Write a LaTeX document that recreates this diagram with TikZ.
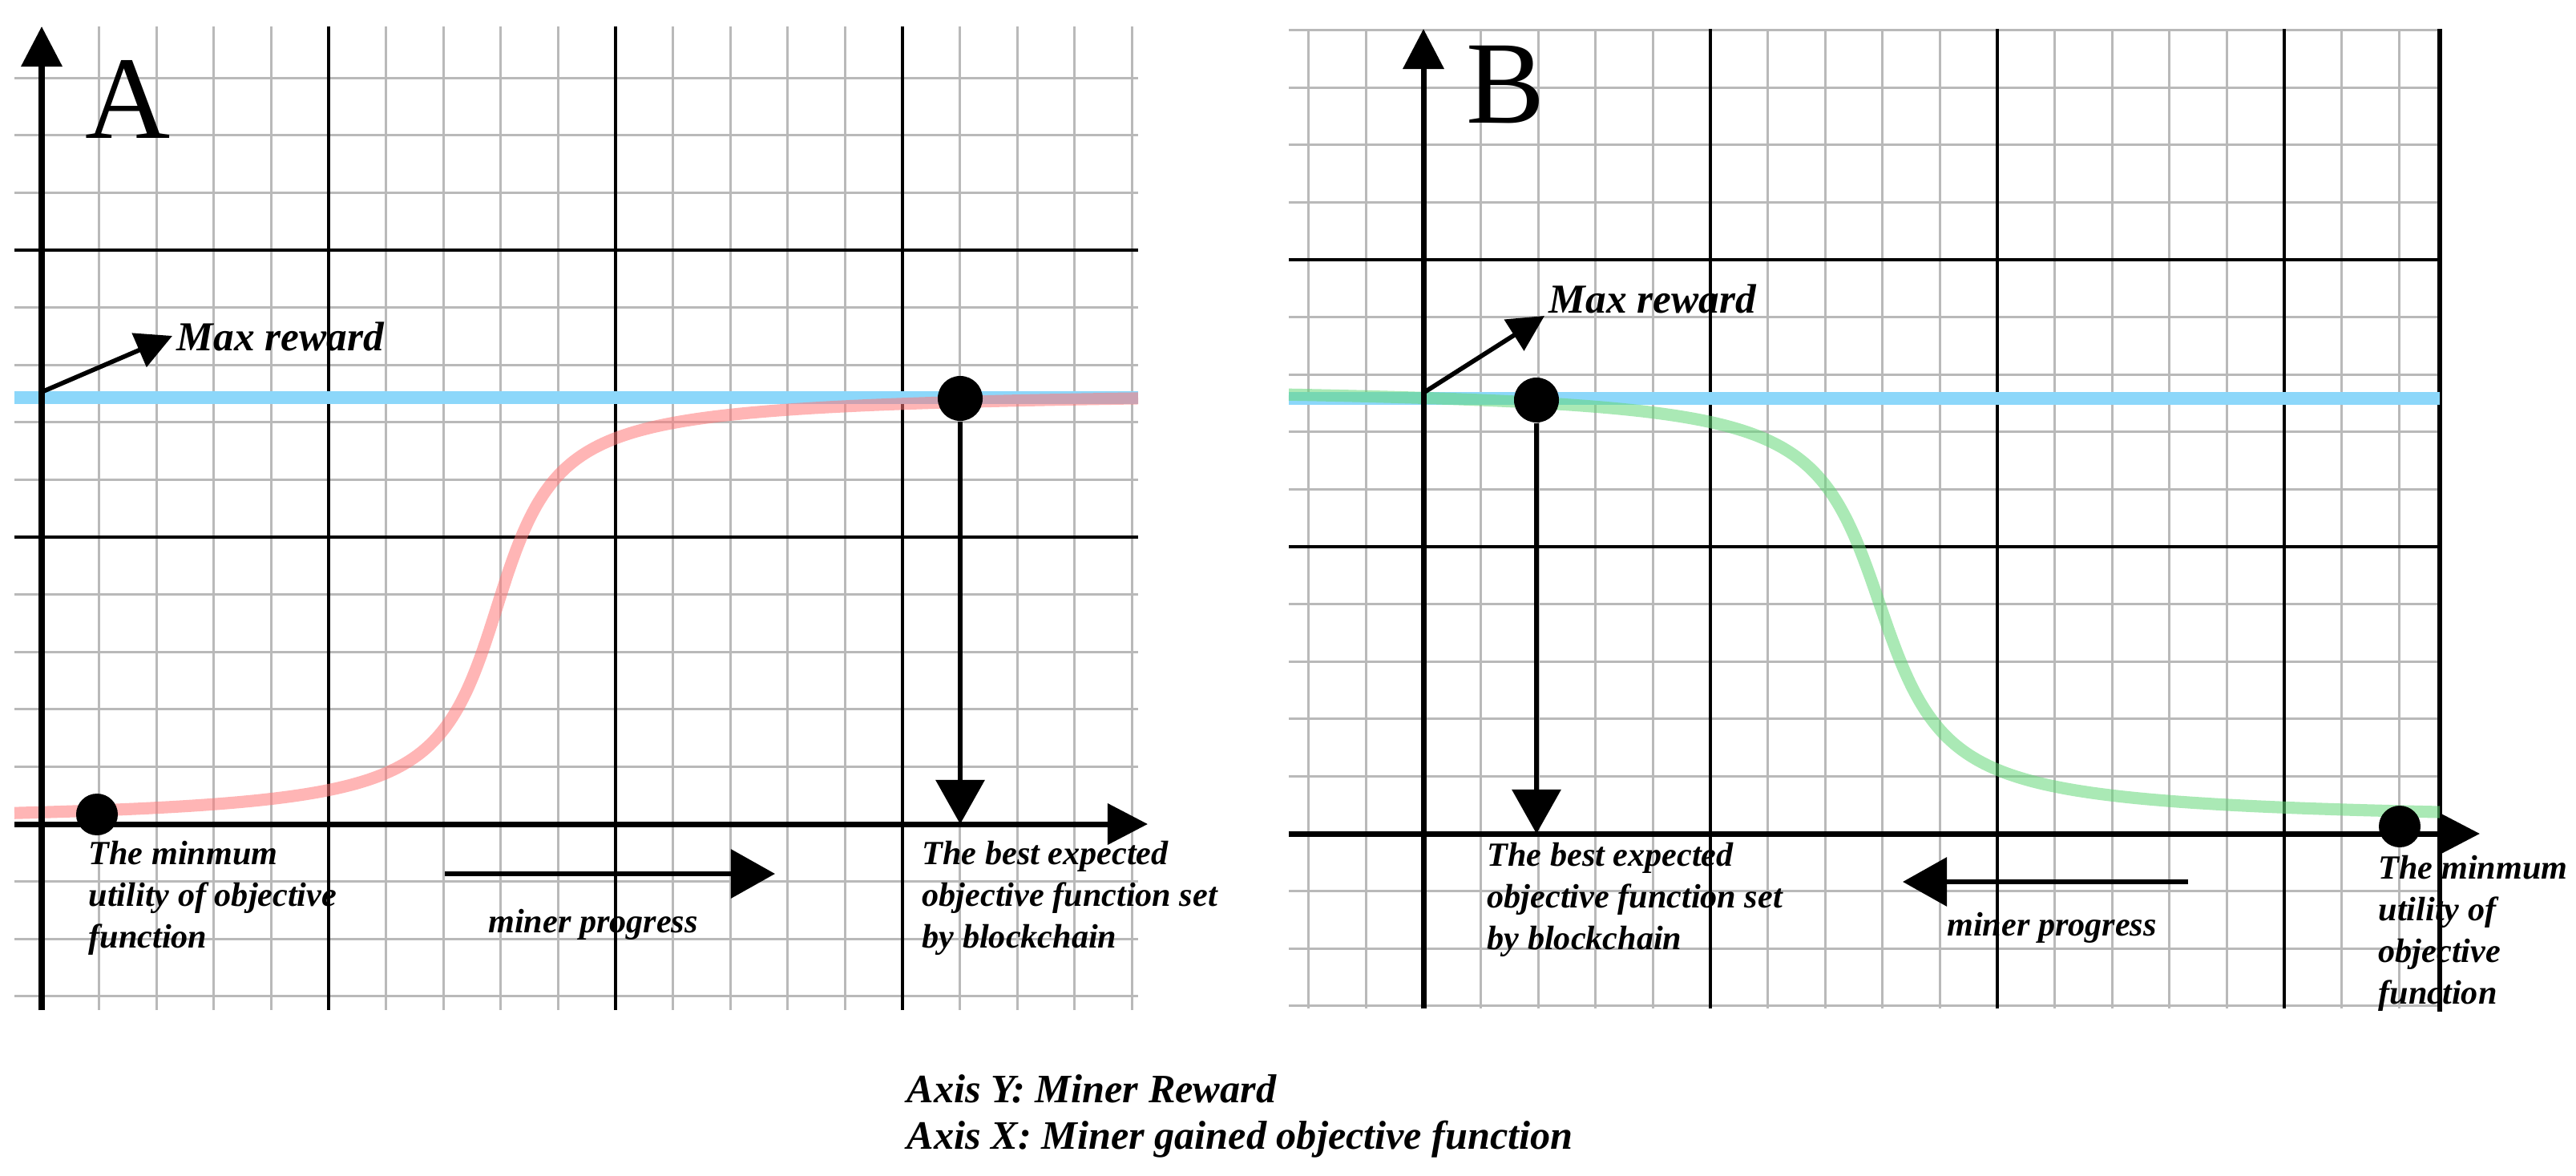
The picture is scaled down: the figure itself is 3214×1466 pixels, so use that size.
\documentclass[tikz,border=0pt]{standalone}
\usepackage{fontspec}
\setmainfont{Liberation Serif}
\newfontfamily\lab{Liberation Serif}
\usetikzlibrary{arrows.meta}
\definecolor{gridgray}{RGB}{185,185,185}
\definecolor{maxblue}{RGB}{140,215,250}
\definecolor{curvered}{RGB}{255,120,120}
\definecolor{curvegreen}{RGB}{100,215,120}
\tikzset{
  minor/.style={gridgray,line width=0.9pt},
  major/.style={black,line width=0.9pt},
  axis/.style={black,line width=2pt,-{Triangle[length=0.5cm,width=0.5cm]}},
  bigarrow/.style={black,line width=1.8pt,-{Triangle[length=0.55cm,width=0.6cm]}},
  smallarrow/.style={black,line width=1.6pt,-{Triangle[length=0.45cm,width=0.45cm]}},
  dot/.style={circle,fill=black,inner sep=0pt,minimum size=0.52cm},
  bigdot/.style={circle,fill=black,inner sep=0pt,minimum size=0.56cm},
  lbl/.style={font=\lab\bfseries\itshape\fontsize{12}{14.8}\selectfont,align=left,inner sep=0pt},
  maxlbl/.style={font=\lab\bfseries\itshape\fontsize{14.6}{17}\selectfont,inner sep=0pt},
  axlbl/.style={font=\lab\bfseries\itshape\fontsize{14.3}{16.5}\selectfont,align=left,inner sep=0pt},
  letter/.style={font=\fontsize{41.8}{44}\selectfont,inner sep=0pt},
  maxline/.style={maxblue,line width=4.3pt},
}
\begin{document}
\begin{tikzpicture}[x=0.01cm,y=-0.01cm]
\useasboundingbox (0,0) rectangle (3214,1466);
% ---------- Panel A grid ----------
\foreach \j in {1,...,19} \draw[minor] ({52+71.6*\j},33) -- ({52+71.6*\j},1260);
\foreach \k in {-3,...,13} \draw[minor] (18,{1028-71.6*\k}) -- (1420,{1028-71.6*\k});
\foreach \j in {5,10,15} \draw[major] ({52+71.6*\j},33) -- ({52+71.6*\j},1260);
\foreach \k in {5,10} \draw[major] (18,{1028-71.6*\k}) -- (1420,{1028-71.6*\k});
% curves A
\draw[maxline] (18,496) -- (1420,496);
\draw[curvered,opacity=0.55,line width=4.3pt] plot[domain=18:1420,samples=160,smooth]
 (\x,{1030-545*(0.5+atan((\x-620)/55)/180)});
% axes A
\coordinate (a0) at (52,1260);
\coordinate (ay) at (52,33);
\coordinate (ax0) at (18,1028);
\coordinate (ax) at (1432,1028);
\draw[axis] (a0) -- (ay);
\draw[axis] (ax0) -- (ax);
\node[letter,anchor=base west] (la) at (106,172) {A};
% max reward A
\coordinate (ma0) at (52,489);
\coordinate (ma1) at (215,419);
\draw[smallarrow] (ma0) -- (ma1);
\node[maxlbl,anchor=base west] (mra) at (220,437) {Max reward};
% dots A
\node[dot] (da) at (121,1016) {};
\node[bigdot] (pa) at (1198,497) {};
\coordinate (ta) at (1198,1028);
\draw[bigarrow] (pa) -- (ta);
\node[lbl,anchor=north west] (mina) at (110,1048) {The minmum\\utility of objective\\function};
\node[lbl,anchor=north west] (besta) at (1150,1048) {The best expected\\objective function set\\by blockchain};
\coordinate (pga0) at (555,1090);
\coordinate (pga1) at (967,1090);
\draw[bigarrow] (pga0) -- (pga1);
\node[lbl,anchor=base] (mpa) at (740,1163) {miner progress};
% ---------- Panel B grid ----------
\foreach \j in {-2,...,17} \draw[minor] ({1776+71.6*\j},36) -- ({1776+71.6*\j},1258);
\foreach \k in {-3,...,14} \draw[minor] (1608,{1040-71.6*\k}) -- (3044,{1040-71.6*\k});
\foreach \j in {5,10,15} \draw[major] ({1776+71.6*\j},36) -- ({1776+71.6*\j},1258);
\foreach \k in {5,10} \draw[major] (1608,{1040-71.6*\k}) -- (3044,{1040-71.6*\k});
\draw[black,line width=1.8pt] (3044,36) -- (3044,1262);
% curves B
\draw[maxline] (1608,497) -- (3044,497);
\draw[curvegreen,opacity=0.55,line width=4.3pt] plot[domain=1608:3044,samples=160,smooth]
 (\x,{478+550*(0.5+atan((\x-2345)/60)/180)});
% axes B
\coordinate (b0) at (1776,1258);
\coordinate (by) at (1776,36);
\coordinate (bx0) at (1608,1040);
\coordinate (bx) at (3094,1040);
\draw[axis] (b0) -- (by);
\draw[axis] (bx0) -- (bx);
\node[letter,anchor=base west] (lb) at (1829,153) {B};
% max reward B
\coordinate (mb0) at (1776,490);
\coordinate (mb1) at (1927,394);
\draw[smallarrow] (mb0) -- (mb1);
\node[maxlbl,anchor=base west] (mrb) at (1932,390) {Max reward};
% dots B
\node[bigdot] (pb) at (1917,499) {};
\coordinate (tb) at (1917,1040);
\draw[bigarrow] (pb) -- (tb);
\node[dot] (db) at (2994,1031) {};
\node[lbl,anchor=north west] (bestb) at (1855,1050) {The best expected\\objective function set\\by blockchain};
\node[lbl,anchor=north west] (minb) at (2967,1066) {The minmum\\utility of\\objective\\function};
\coordinate (pgb0) at (2730,1100);
\coordinate (pgb1) at (2374,1100);
\draw[bigarrow] (pgb0) -- (pgb1);
\node[lbl,anchor=base] (mpb) at (2560,1167) {miner progress};
% axis legend
\node[axlbl,anchor=north west] (leg) at (1131,1340) {Axis Y: Miner Reward\\Axis X: Miner gained objective function};
\end{tikzpicture}
\end{document}
